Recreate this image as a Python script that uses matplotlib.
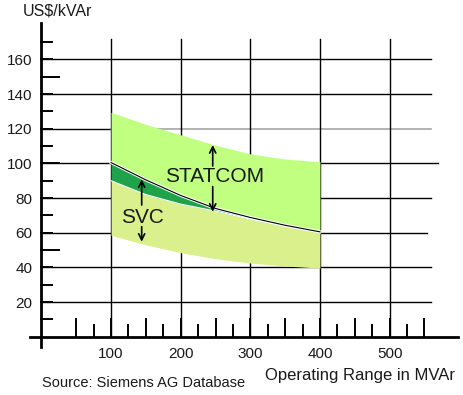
import matplotlib
matplotlib.use("Agg")
import matplotlib.pyplot as plt
import numpy as np

plt.rcParams['font.family'] = ['Liberation Sans', 'DejaVu Sans']

# operating range (MVAr) and cost curves (US$/kVAr)
mvar = [100, 150, 200, 250, 300, 350, 400]
statcom_top = [129.5, 122.5, 116.5, 110.5, 105.5, 102.5, 101.0]
statcom_bottom = [100.5, 90.5, 81.5, 74.0, 68.8, 64.3, 60.5]
svc_top = [90.0, 82.0, 76.5, 72.5, 67.8, 63.6, 60.0]
svc_bottom = [58.5, 53.0, 48.5, 45.0, 42.5, 40.8, 39.6]

x_ticks = [100, 200, 300, 400, 500]
y_ticks = [20, 40, 60, 80, 100, 120, 140, 160]
grid_y = [20, 40, 60, 80, 100, 140, 160]
grid_y_end = [559, 559, 553, 559, 569, 559, 559]

c_statcom = '#c0ff80'
c_svc = '#d9f08c'
c_dark = '#1fa34a'
txt = '#1a1a1a'

fig = plt.figure(figsize=(4.64, 3.95), dpi=100)
ax = fig.add_axes([0, 0, 1, 1])
ax.set_xlim(-59.44, 606.8)
ax.set_ylim(-33.64, 194.3)
ax.set_facecolor('white')

# grid
for y, xe in zip(grid_y, grid_y_end):
    ax.plot([0, xe], [y, y], color='black', lw=1.0, zorder=1)
ax.plot([0, 100], [120, 120], color='black', lw=1.0, zorder=1)
ax.plot([100, 559], [120, 120], color='#a6a6a6', lw=1.2, zorder=1)
for x in x_ticks:
    ax.plot([x, x], [0, 172], color='black', lw=1.0, zorder=1)

# tick marks
for x in range(50, 551, 25):
    h = 10.4 if x % 50 == 0 else 6.7
    ax.plot([x, x], [0, h], color='black', lw=1.4, zorder=5)
for y in range(10, 171, 10):
    w = 25.8 if y % 50 == 0 else 15.8
    ax.plot([0, w], [y, y], color='black', lw=1.4, zorder=5)

# bands
ax.fill_between(mvar, statcom_bottom, statcom_top, color=c_statcom, lw=0, zorder=2)
ax.fill_between(mvar, svc_bottom, svc_top, color=c_svc, lw=0, zorder=2)
ax.fill_between(mvar, svc_top, statcom_bottom, color=c_dark, lw=0, zorder=2)
ax.plot(mvar, svc_top, color='white', lw=0.8, zorder=3)
ax.plot(mvar, statcom_bottom, color='white', lw=2.2, zorder=3)
ax.plot(mvar, statcom_bottom, color='black', lw=0.8, zorder=3)

# labels and arrows
ax.text(249, 92.7, 'STATCOM', fontsize=15, ha='center', va='center', color=txt, zorder=6)
ax.text(145, 68.9, 'SVC', fontsize=15, ha='center', va='center', color=txt, zorder=6)
arr = dict(arrowstyle='->', color='black', lw=1.2, mutation_scale=11, shrinkA=0, shrinkB=0)
ax.annotate('', xy=(246, 110.6), xytext=(246, 98.5), arrowprops=arr, zorder=6)
ax.annotate('', xy=(246, 72.1), xytext=(246, 86.6), arrowprops=arr, zorder=6)
ax.annotate('', xy=(144, 90.8), xytext=(144, 76.0), arrowprops=arr, zorder=6)
ax.annotate('', xy=(144, 54.8), xytext=(144, 63.5), arrowprops=arr, zorder=6)

# axes
for s in ['top', 'right']:
    ax.spines[s].set_visible(False)
ax.spines['left'].set_position(('data', 0))
ax.spines['bottom'].set_position(('data', 0))
ax.spines['left'].set_bounds(-5.8, 180.8)
ax.spines['bottom'].set_bounds(-16, 598)
ax.spines['left'].set_linewidth(2.0)
ax.spines['bottom'].set_linewidth(2.0)
ax.spines['left'].set_zorder(7)
ax.spines['bottom'].set_zorder(7)

ax.set_xticks(x_ticks)
ax.set_xticklabels([str(v) for v in x_ticks])
ax.set_yticks(y_ticks)
ax.set_yticklabels([str(v) for v in y_ticks])
ax.tick_params(axis='x', length=0, pad=7.5, labelsize=11, labelcolor=txt)
ax.tick_params(axis='y', length=0, pad=6.5, labelsize=11, labelcolor=txt)

ax.text(-26.8, 187.9, 'US$/kVAr', fontsize=11.5, ha='left', va='center', color=txt)
ax.text(321, -22.1, 'Operating Range in MVAr', fontsize=12, ha='left', va='center', color=txt)
ax.text(0.9, -26.7, 'Source: Siemens AG Database', fontsize=10.5, ha='left', va='center', color=txt)

fig.savefig('out.png', dpi=100)
